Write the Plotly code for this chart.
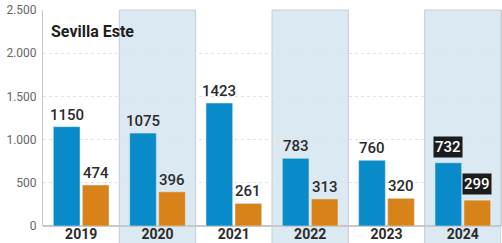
import plotly.graph_objects as go

years = ["2019", "2020", "2021", "2022", "2023", "2024"]
serie_a = [1150, 1075, 1423, 783, 760, 732]
serie_b = [474, 396, 261, 313, 320, 299]
y_ticks = [0, 500, 1000, 1500, 2000, 2500]
y_tick_labels = ["0", "500", "1.000", "1.500", "2.000", "2.500"]
title_text = "Sevilla Este"
highlight = "2024"

blue = "#0a8bc9"
orange = "#d8821a"
band = "#dbe9f2"

fig = go.Figure()
fig.add_bar(x=years, y=serie_a, marker_color=blue)
fig.add_bar(x=years, y=serie_b, marker_color=orange)

shapes = []
for i, y in enumerate(years):
    if i % 2 == 1:
        shapes.append(dict(type="rect", xref="x", yref="paper", x0=i - 0.5, x1=i + 0.5,
                           y0=-0.09, y1=1, fillcolor=band, layer="below",
                           line=dict(color="#c4ccd2", width=1)))

annotations = [dict(x=0, xref="x domain", xanchor="left", xshift=6, y=0.955, yref="paper",
                    yanchor="top", text="<b>" + title_text + "</b>", showarrow=False,
                    font=dict(family="Roboto", size=16, color="#1e1e1e"))]
for i, yr in enumerate(years):
    for off, vals in ((-0.19, serie_a), (0.19, serie_b)):
        hl = yr == highlight
        annotations.append(dict(
            x=i + off, xref="x", y=vals[i], yref="y", yanchor="bottom",
            yshift=5 if hl else 1, text=str(vals[i]), showarrow=False,
            bgcolor="#1c1c1c" if hl else "rgba(0,0,0,0)", borderpad=1,
            font=dict(family="Roboto", size=15, color="white" if hl else "#2b2b2b",
                      weight=500)))

fig.update_layout(
    width=502, height=243,
    margin=dict(l=43, r=1, t=10, b=17),
    paper_bgcolor="white", plot_bgcolor="white",
    barmode="group", bargap=0.24, bargroupgap=0.08,
    showlegend=False, shapes=shapes, annotations=annotations,
    font=dict(family="Roboto"),
)
fig.update_xaxes(tickfont=dict(family="Roboto", size=14, color="#2b2b2b", weight="bold"),
                 showline=False, ticks="", range=[-0.5, 5.5], automargin=False,
                 ticklabelstandoff=-2)
fig.update_yaxes(range=[0, 2500], tickvals=y_ticks, ticktext=y_tick_labels,
                 tickfont=dict(family="Roboto", size=12, color="#666"),
                 gridcolor="#e2e2e2", griddash="dot", showline=True, linecolor="#c8c8c8",
                 mirror=True, zeroline=True, zerolinecolor="#c8c8c8", ticks="",
                 automargin=False, ticklabelstandoff=3)
fig.write_html("out.html", config={"displayModeBar": False},
               post_script="document.body.style.margin='0';")
